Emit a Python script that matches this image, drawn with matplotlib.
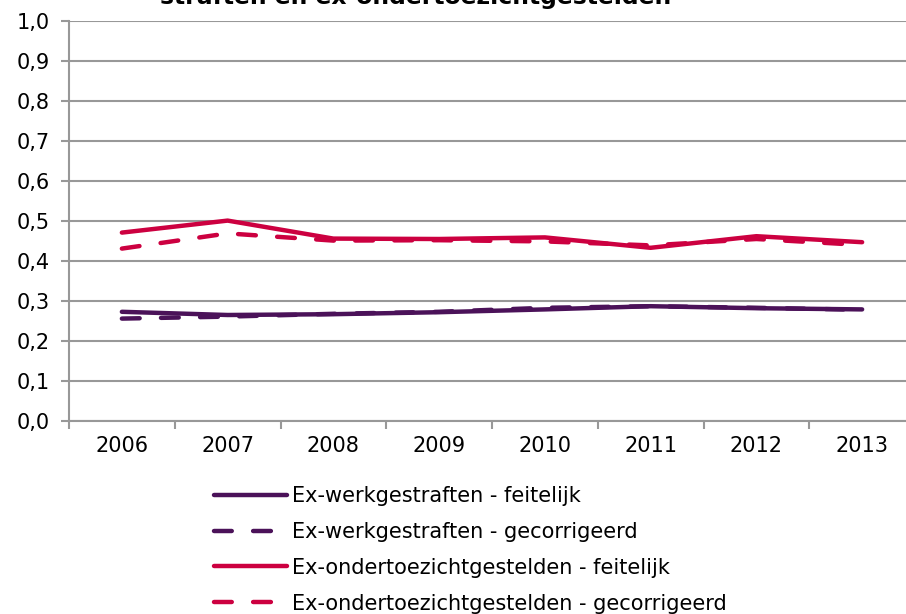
import matplotlib
matplotlib.use("Agg")
import matplotlib.pyplot as plt
import numpy as np

years = ["2006", "2007", "2008", "2009", "2010", "2011", "2012", "2013"]
werk_feitelijk = [0.273, 0.265, 0.267, 0.272, 0.279, 0.287, 0.282, 0.279]
werk_gecorr = [0.256, 0.261, 0.268, 0.273, 0.283, 0.287, 0.283, 0.278]
otz_feitelijk = [0.471, 0.501, 0.456, 0.455, 0.459, 0.433, 0.462, 0.447]
otz_gecorr = [0.431, 0.469, 0.451, 0.452, 0.449, 0.439, 0.455, 0.440]
labels = ["Ex-werkgestraften - feitelijk", "Ex-werkgestraften - gecorrigeerd",
          "Ex-ondertoezichtgestelden - feitelijk", "Ex-ondertoezichtgestelden - gecorrigeerd"]
yticks = [0.0, 0.1, 0.2, 0.3, 0.4, 0.5, 0.6, 0.7, 0.8, 0.9, 1.0]
title_visible = "straften en ex-ondertoezichtgestelden"

purple = "#4b1259"
red = "#cc0040"
grid_c = "#989898"
fs = 15

plt.rcParams['font.family'] = ['DejaVu Sans']
fig = plt.figure(figsize=(9.06, 6.14), dpi=100)
ax = fig.add_axes([69/906, 193/614, 846/906, 400/614])

x = np.arange(len(years))
lw = 3.2
dash = (4.0, 4.8)
ax.plot(x, werk_feitelijk, color=purple, lw=lw, solid_capstyle='round', label=labels[0], zorder=3)
ax.plot(x, werk_gecorr, color=purple, lw=lw, dashes=dash, dash_capstyle='round', label=labels[1], zorder=3)
ax.plot(x, otz_feitelijk, color=red, lw=lw, solid_capstyle='round', label=labels[2], zorder=3)
ax.plot(x, otz_gecorr, color=red, lw=lw, dashes=dash, dash_capstyle='round', label=labels[3], zorder=3)

ax.set_xlim(-0.5, len(years) - 0.5)
ax.set_ylim(0, 1.0)
ax.set_yticks(yticks)
ax.set_yticklabels([f"{v:.1f}".replace('.', ',') for v in yticks])
ax.set_xticks(x)
ax.set_xticklabels(years)
ax.set_xticks(np.arange(-0.5, len(years) - 0.5, 1.0), minor=True)
ax.tick_params(axis='x', which='major', length=0, pad=11, labelsize=fs, colors='black')
ax.tick_params(axis='x', which='minor', length=6, width=1.5, color=grid_c, direction='out')
ax.tick_params(axis='y', length=6, width=1.5, color=grid_c, labelsize=fs, pad=8)
for lab in ax.get_xticklabels() + ax.get_yticklabels():
    lab.set_color('black')

ax.grid(axis='y', color=grid_c, lw=1.5)
ax.set_axisbelow(True)
for s in ['top', 'right']:
    ax.spines[s].set_visible(False)
for s in ['left', 'bottom']:
    ax.spines[s].set_color(grid_c)
    ax.spines[s].set_linewidth(1.5)

fig.text(416/906, 1 - 4/614, title_visible, ha='center', va='baseline',
         fontsize=16.9, fontweight='bold')

leg = fig.legend(loc='upper left', bbox_to_anchor=(214/906, 1 - 486/614),
                 frameon=False, fontsize=fs, handlelength=3.5,
                 handletextpad=0.25, labelspacing=0.76, borderpad=0, borderaxespad=0)

fig.savefig("out.png", dpi=100)
